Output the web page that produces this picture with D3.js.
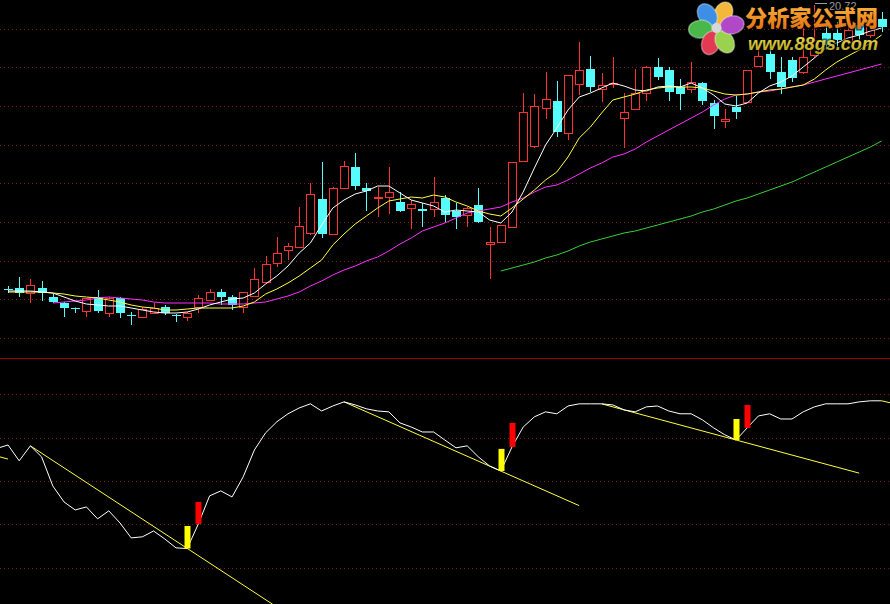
<!DOCTYPE html>
<html><head><meta charset="utf-8">
<script src="https://cdn.jsdelivr.net/npm/d3@7"></script>
<style>html,body{margin:0;padding:0;background:#000;overflow:hidden}</style>
</head><body><svg id="c" width="890" height="604"></svg>
<script>
// ---------------- DATA ----------------
const opens = [11.1,11.2,10.7,11.2,10.3,9.7,9.2,8.9,10.3,8.7,
 10.2,8.5,8.3,8.7,9.3,8.5,8.3,9.3,10.0,10.8,
 10.3,9.3,10.4,11.8,13.7,15.0,15.3,16.7,20.1,16.6,
 21.2,23.3,21.2,20.25,20.3,19.8,19.2,19.1,19.1,20.2,
 18.9,18.5,19.5,15.6,15.8,17.3,23.9,25.4,29.2,29.9,
 26.7,31.6,33.1,31.1,31.6,28.2,29.1,30.7,33.3,33.0,
 31.3,31.1,31.7,29.7,27.9,29.3,29.8,33.4,34.6,32.8,
 34.0,32.8,34.5,36.7,36.7,35.8,37.5,36.5,38.1];
const closes = [11.05,10.7,11.5,10.7,9.8,9.2,9.15,10.2,8.9,10.2,
 8.7,8.45,9.1,9.2,8.7,8.45,8.7,10.2,10.8,10.3,
 9.5,10.8,12.1,13.6,14.7,15.4,17.4,20.6,16.6,21.2,
 23.4,21.4,20.9,20.3,20.8,18.9,19.6,18.9,19.8,18.5,
 18.3,19.2,17.8,15.8,17.5,23.8,28.8,29.4,30.1,26.8,
 32.5,33.0,31.3,31.5,31.7,28.8,30.7,33.3,32.3,30.8,
 30.6,31.8,29.9,28.4,28.1,28.8,33.0,34.4,32.8,31.3,
 32.2,34.3,36.0,35.5,36.0,37.0,36.5,37.5,37.3];
const highs = [11.4,12.3,12.1,11.9,10.6,9.8,9.25,10.2,11.0,10.3,
 10.3,8.8,9.3,9.7,9.5,8.6,8.8,10.5,11.1,11.1,
 10.5,10.8,13.2,14.4,16.3,15.7,19.3,21.7,23.8,21.3,
 23.9,24.7,21.7,21.3,23.3,20.8,20.0,19.7,22.3,20.5,
 19.7,19.3,21.2,17.3,17.5,23.8,30.7,30.6,32.8,31.9,
 32.5,35.8,34.4,32.7,34.3,30.7,33.1,33.4,34.2,33.3,
 32.1,33.8,31.8,30.0,29.1,30.4,33.0,35.5,35.0,34.3,
 34.3,37.2,39.5,37.5,37.8,38.0,38.5,38.2,38.8];
const lows = [10.7,10.3,9.7,9.9,9.7,8.3,8.7,8.3,8.7,8.3,
 8.2,7.5,8.3,8.6,8.5,7.8,7.9,8.7,10.0,9.5,
 9.0,8.7,10.4,11.7,13.3,14.0,15.2,16.5,16.2,16.5,
 21.1,21.0,18.9,18.3,18.6,18.8,17.1,17.3,18.3,17.8,
 17.1,17.3,17.7,12.1,15.7,17.2,23.9,25.2,28.1,26.3,
 26.0,30.5,30.8,29.8,31.2,25.2,29.0,29.9,32.0,29.9,
 29.0,30.7,29.5,27.1,27.2,28.1,29.7,33.4,32.1,30.6,
 31.8,32.6,34.2,35.0,35.2,35.5,36.0,36.2,36.8];

// moving averages, start index of each
const ma5Start = 0;
const ma5 = [10.9,10.9,10.9,10.8,10.7,10.3,9.9,9.6,9.5,9.4,
 9.4,9.2,9.0,8.8,8.7,8.7,8.8,9.1,9.5,9.8,
 10.1,10.2,10.7,11.6,12.4,13.4,14.7,15.7,17.5,19.2,
 20.0,20.6,20.9,21.4,21.4,20.7,20.0,19.7,19.4,18.8,
 19.0,18.9,18.8,18.0,17.7,18.8,20.8,23.2,25.5,27.2,
 29.0,30.3,30.7,31.2,31.7,31.4,31.0,30.9,31.3,31.4,
 31.3,31.7,31.2,30.5,29.6,29.4,29.7,30.7,31.4,31.8,
 32.4,33.3,34.2,35.2,35.7,36.2,36.5,36.9,37.2];
const ma10Start = 0;
const ma10 = [10.8,10.8,10.8,10.8,10.7,10.6,10.4,10.3,10.2,10.0,
 9.8,9.5,9.3,9.2,9.0,9.0,9.1,9.2,9.2,9.2,
 9.2,9.4,9.8,10.6,11.1,11.7,12.4,13.2,14.0,15.5,
 16.6,17.6,18.4,19.2,19.9,20.1,20.3,20.2,20.5,20.3,
 19.8,19.4,18.9,18.6,18.4,19.2,20.1,21.0,22.0,22.8,
 24.3,26.2,27.3,28.7,30.0,30.3,30.6,31.0,31.2,31.3,
 31.3,31.3,31.2,30.9,30.6,30.5,30.6,30.8,31.0,31.1,
 31.3,31.5,32.1,33.0,33.8,34.4,35.0,35.7,36.5];
const ma20Start = 4;
const ma20 = [9.7,9.8,9.9,10.0,10.2,10.3,
 10.2,10.1,10.0,9.8,9.7,9.7,9.7,9.7,9.7,9.6,
 9.6,9.6,9.7,9.8,10.1,10.4,10.8,11.4,11.9,12.5,
 13.0,13.4,13.9,14.3,14.9,15.6,16.2,16.9,17.3,17.7,
 18.2,18.7,18.9,19.1,19.3,19.8,20.2,20.8,21.3,21.5,
 22.0,22.6,23.2,23.7,24.3,24.6,25.1,25.8,26.4,27.0,
 27.6,28.2,28.8,29.5,30.1,30.5,30.6,30.8,30.9,31.1,
 31.3,31.5,31.8,32.1,32.4,32.7,33.0,33.3,33.6];
const ma60Start = 44;
const ma60 = [12.9,13.2,13.5,13.8,14.2,14.5,14.9,15.4,15.8,16.1,
 16.4,16.7,16.9,17.2,17.5,17.8,18.1,18.4,18.8,19.1,
 19.5,19.9,20.2,20.6,21.0,21.4,21.8,22.3,22.8,23.3,
 23.8,24.3,24.8,25.3,25.9];

// lower indicator
const oscStart = -1;
const osc = [75.0,
 76.6,69.3,76.2,71.1,57.7,50.3,46.6,48.0,42.5,46.2,
 40.6,33.7,34.2,36.9,33.2,29.1,28.8,40.2,53.1,55.4,
 52.6,61.9,74.3,82.2,87.3,91.0,93.7,95.6,92.3,94.6,
 96.5,95.1,93.3,92.3,91.9,86.8,84.9,82.6,82.6,78.9,
 75.3,76.2,71.1,66.9,64.6,75.7,84.9,89.6,91.9,91.0,
 94.6,95.6,95.6,95.6,95.1,92.8,91.9,94.2,94.6,92.3,
 91.0,91.0,88.2,84.5,81.3,78.9,84.5,90.0,91.0,88.6,
 88.6,91.9,94.2,95.6,95.6,95.6,96.5,97.0,97.0];
const trendLines = [
 [[-1,71.5],[0,70.1]],
 [[2,76.2],[24,1.8]],
 [[30,96.5],[51,48.6]],
 [[53,95.6],[76,63.6]],
 [[78,97.0],[79,95.8]]
];
const yellowBars = [[16,28.8,39.2],[44,64.6,74.8],[65,78.9,88.6]];
const redBars = [[17,40.2,50.3],[45,75.7,86.8],[66,84.5,95.1]];

const priceGrid = [37.1,33.3,29.4,25.5,21.7,17.8,13.9,10.1,6.2];
const oscGrid = [100,80,60,40,20];
const highLabel = "20.72";
const logoTitle = "分析家公式网";
const logoUrl = "www.88gs.com";

// ---------------- SCALES ----------------
const W = 890, H = 604;
const x = d3.scaleLinear().domain([0, 78]).range([8, 881.6]);
const yP = d3.scaleLinear().domain([4.2, 40]).range([358, 0]);
const yO = d3.scaleLinear().domain([0, 100]).range([610.9, 394.3]);

const UP = "#ff3232", DOWN = "#54fcfc";
const svg = d3.select("#c");
svg.append("rect").attr("width", W).attr("height", H).attr("fill", "#000");

const defs = svg.append("defs");
defs.append("clipPath").attr("id","topClip").append("rect").attr("x",0).attr("y",0).attr("width",W).attr("height",357);
defs.append("clipPath").attr("id","botClip").append("rect").attr("x",0).attr("y",360).attr("width",W).attr("height",H-360);

// grid lines
const gridColor = "#7a1c1c";
svg.append("g").selectAll("line").data(priceGrid).join("line")
  .attr("x1",0).attr("x2",W)
  .attr("y1",d=>Math.round(yP(d))+0.5).attr("y2",d=>Math.round(yP(d))+0.5)
  .attr("stroke",gridColor).attr("stroke-dasharray","1,3");
svg.append("g").selectAll("line").data(oscGrid).join("line")
  .attr("x1",0).attr("x2",W)
  .attr("y1",d=>Math.round(yO(d))+0.5).attr("y2",d=>Math.round(yO(d))+0.5)
  .attr("stroke",gridColor).attr("stroke-dasharray","1,3");
// panel separator
svg.append("line").attr("x1",0).attr("x2",W).attr("y1",358.5).attr("y2",358.5)
  .attr("stroke","#a00000");

// ---------------- CANDLES ----------------
const candles = opens.map((o,i)=>({i,o,c:closes[i],h:highs[i],l:lows[i]}));
const topG = svg.append("g").attr("clip-path","url(#topClip)");
const cg = topG.append("g");
candles.forEach(d=>{
  const xc = Math.round(x(d.i));
  const up = d.c >= d.o;
  const col = up ? UP : DOWN;
  cg.append("line").attr("x1",xc+0.5).attr("x2",xc+0.5)
    .attr("y1",yP(d.h)).attr("y2",yP(d.l)).attr("stroke",col).attr("stroke-width",1);
  const yTop = Math.round(yP(Math.max(d.o,d.c)));
  const yBot = Math.round(yP(Math.min(d.o,d.c)));
  if (up) {
    if (yBot - yTop < 2) {
      cg.append("rect").attr("x",xc-4).attr("width",9).attr("y",yTop).attr("height",Math.max(2,yBot-yTop)).attr("fill",col);
    } else {
      cg.append("rect").attr("x",xc-3.5).attr("width",8).attr("y",yTop+0.5).attr("height",yBot-yTop)
        .attr("fill","#000").attr("stroke",col).attr("stroke-width",1);
    }
  } else {
    cg.append("rect").attr("x",xc-4).attr("width",9).attr("y",yTop).attr("height",Math.max(1,yBot-yTop)).attr("fill",col);
  }
});

// ---------------- MA LINES ----------------
function maLine(arr, start, color){
  const gen = d3.line().x((d,k)=>x(start+k)).y(d=>yP(d));
  topG.append("path").attr("d",gen(arr)).attr("fill","none").attr("stroke",color).attr("stroke-width",1);
}
maLine(ma60, ma60Start, "#38d038");
maLine(ma20, ma20Start, "#ff30ff");
maLine(ma10, ma10Start, "#ffff40");
maLine(ma5, ma5Start, "#ffffff");

// high label
const hiIdx = highs.indexOf(d3.max(highs));
topG.append("line").attr("x1",Math.round(x(hiIdx))+1).attr("x2",Math.round(x(hiIdx))+13)
  .attr("y1",Math.round(yP(highs[hiIdx]))-1.5).attr("y2",Math.round(yP(highs[hiIdx]))-1.5)
  .attr("stroke","#9a9a9a");
topG.append("text").attr("x",Math.round(x(hiIdx))+15).attr("y",10)
  .attr("font-family","Liberation Sans, Arial, sans-serif").attr("font-size",11)
  .attr("fill","#9a9a9a").text(highLabel);

// ---------------- LOWER INDICATOR ----------------
const bot = svg.append("g").attr("clip-path","url(#botClip)");
trendLines.forEach(tl=>{
  bot.append("line").attr("x1",x(tl[0][0])).attr("y1",yO(tl[0][1]))
    .attr("x2",x(tl[1][0])).attr("y2",yO(tl[1][1]))
    .attr("stroke","#ffff40").attr("stroke-width",1);
});
bot.append("path").attr("d", d3.line().x((d,k)=>x(oscStart+k)).y(d=>yO(d))(osc))
  .attr("fill","none").attr("stroke","#ffffff").attr("stroke-width",1);
function bars(data,color){
  bot.append("g").selectAll("rect").data(data).join("rect")
    .attr("x",d=>Math.round(x(d[0]))-2.5).attr("width",6)
    .attr("y",d=>yO(d[2])).attr("height",d=>yO(d[1])-yO(d[2]))
    .attr("fill",color);
}
bars(yellowBars,"#ffff00");
bars(redBars,"#ff0000");

// ---------------- LOGO (watermark) ----------------
const logo = svg.append("g");
const tg = defs.append("linearGradient").attr("id","tgrad").attr("x1",0).attr("y1",0).attr("x2",0).attr("y2",1);
tg.append("stop").attr("offset","0%").attr("stop-color","#ffc040");
tg.append("stop").attr("offset","100%").attr("stop-color","#e06a10");
const ug = defs.append("linearGradient").attr("id","ugrad").attr("x1",0).attr("y1",0).attr("x2",0).attr("y2",1);
ug.append("stop").attr("offset","0%").attr("stop-color","#f4e45a");
ug.append("stop").attr("offset","100%").attr("stop-color","#b0a018");
const cx = 716.5, cy = 28;
const petals = [[-65,"#f2b83a"],[-125,"#3d8fe6"],[176,"#48b84a"],[111,"#e23a52"],[59,"#9ad24e"],[-11,"#b048c8"]];
petals.forEach(p=>{
  const a = p[0]*Math.PI/180;
  const px = cx+16*Math.cos(a), py = cy+16*Math.sin(a);
  logo.append("ellipse").attr("cx",px).attr("cy",py)
    .attr("rx",12).attr("ry",9)
    .attr("transform",`rotate(${p[0]},${px},${py})`)
    .attr("fill",p[1]).attr("stroke","#ffffff").attr("stroke-opacity",0.35).attr("stroke-width",1.5);
});
logo.append("circle").attr("cx",cx).attr("cy",cy).attr("r",5).attr("fill","#d8d8d8");
logo.append("text").attr("x",745).attr("y",26)
  .attr("font-family","Noto Sans CJK SC, sans-serif").attr("font-weight",900).attr("font-size",22)
  .attr("textLength",133).attr("lengthAdjust","spacingAndGlyphs")
  .attr("fill","url(#tgrad)").attr("stroke","rgba(0,0,0,0.6)").attr("stroke-width",3)
  .attr("paint-order","stroke").text(logoTitle);
logo.append("text").attr("x",748).attr("y",50)
  .attr("font-family","Liberation Sans, Arial, sans-serif").attr("font-weight","bold")
  .attr("font-style","italic").attr("font-size",19)
  .attr("textLength",130).attr("lengthAdjust","spacingAndGlyphs")
  .attr("fill","url(#ugrad)").attr("stroke","rgba(0,0,0,0.6)").attr("stroke-width",3)
  .attr("paint-order","stroke").text(logoUrl);
</script></body></html>
